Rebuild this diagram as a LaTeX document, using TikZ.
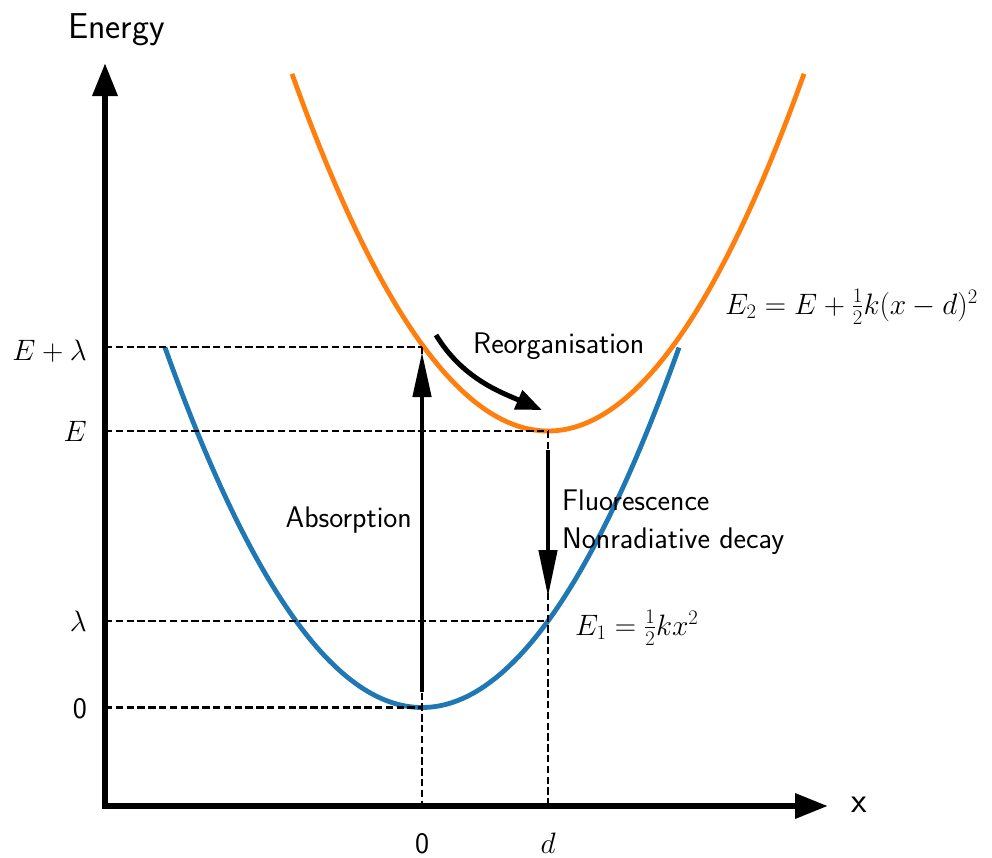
\RequirePackage{fix-cm}
\documentclass[tikz,border=0pt]{standalone}
\usepackage{fontspec}
\usetikzlibrary{arrows.meta}
\definecolor{mplblue}{HTML}{1F77B4}
\definecolor{mplorange}{HTML}{FF7F0E}
\begin{document}
\begin{tikzpicture}[x=1pt,y=-1pt,
  txt/.style={font=\sffamily\fontsize{29.8}{36}\selectfont, inner sep=0pt},
  big/.style={font=\sffamily\fontsize{36}{42}\selectfont, inner sep=0pt},
  mth/.style={font=\fontsize{29.5}{36}\selectfont, inner sep=0pt},
  axisline/.style={line width=6.5pt, line cap=rect, -{Triangle[length=33pt,width=24pt]}},
  guide/.style={line width=2.4pt, dash pattern=on 7.4pt off 3.4pt},
  pes/.style={line width=4.8pt},
  trans/.style={line width=4.6pt},
]
\useasboundingbox (0,0) rectangle (992,857);
\fill[white] (0,0) rectangle (992,857);

% key coordinates
\coordinate (O) at (105,806);
\coordinate (ytip) at (105,63);
\coordinate (xtip) at (828,806);
\coordinate (L0) at (105,707.5);
\coordinate (Llam) at (105,621);
\coordinate (LE) at (105,431);
\coordinate (LEl) at (105,347);
\coordinate (p0) at (422,707.5);
\coordinate (plam) at (548,621);
\coordinate (pE) at (548,431);
\coordinate (pEl) at (422,347);
\coordinate (b0) at (422,806);
\coordinate (bd) at (548,806);

% potential energy curves
\draw[pes, mplblue] plot[domain=165:679, samples=120] (\x, {707.5-((\x-422)*0.07382)^2});
\draw[pes, mplorange] plot[domain=292:804, samples=120] (\x, {431-((\x-548)*0.07382)^2});

% guide lines
\draw[guide] (LEl) -- (pEl);
\draw[guide] (LE) -- (pE);
\draw[guide] (Llam) -- (plam);
\draw[guide] (L0) -- (p0);
\draw[guide] (pEl) -- (b0);
\draw[guide] (pE) -- (bd);

% axes
\draw[axisline] (O) -- (ytip);
\draw[axisline] (O) -- (xtip);

% transitions
\coordinate (absS) at (422,692);
\coordinate (absE) at (422,352);
\draw[trans, -{Triangle[length=45pt,width=18pt]}] (absS) -- (absE);
\coordinate (flS) at (548,450);
\coordinate (flE) at (548,597);
\draw[trans, -{Triangle[length=47pt,width=18pt]}] (flS) -- (flE);
\coordinate (reS) at (436,335);
\coordinate (reE) at (542,410);
\draw[line width=5pt, -{Triangle[length=26pt,width=20pt]}] (reS) .. controls (462,378) and (500,392) .. (reE);

% labels
\node[big, anchor=base west] (energy) at (68,38) {Energy};
\node[big, anchor=base] (xlab) at (859.5,812.5) {x};
\node[mth, anchor=base east] (tEl) at (87,360.7) {$E+\lambda$};
\node[mth, anchor=base east] (tE) at (87,441.7) {$E$};
\node[mth, anchor=base east] (tlam) at (87,631.7) {$\lambda$};
\node[txt, anchor=base east] (t0) at (87,718) {0};
\node[txt, anchor=base] (x0) at (422,853) {0};
\node[mth, anchor=base] (xd) at (548,853) {$d$};
\node[mth, anchor=base west] (e1) at (575,635) {$E_1=\frac{1}{2}kx^2$};
\node[mth, anchor=base west] (e2) at (725,314) {$E_2=E+\frac{1}{2}k(x-d)^2$};
\node[txt, anchor=base east] (abs) at (412,527) {Absorption};
\node[txt, anchor=base west] (reorg) at (473,353) {Reorganisation};
\node[txt, anchor=base west] (fluo) at (562,510) {Fluorescence};
\node[txt, anchor=base west] (nrd) at (562,548) {Nonradiative decay};
\end{tikzpicture}
\end{document}
